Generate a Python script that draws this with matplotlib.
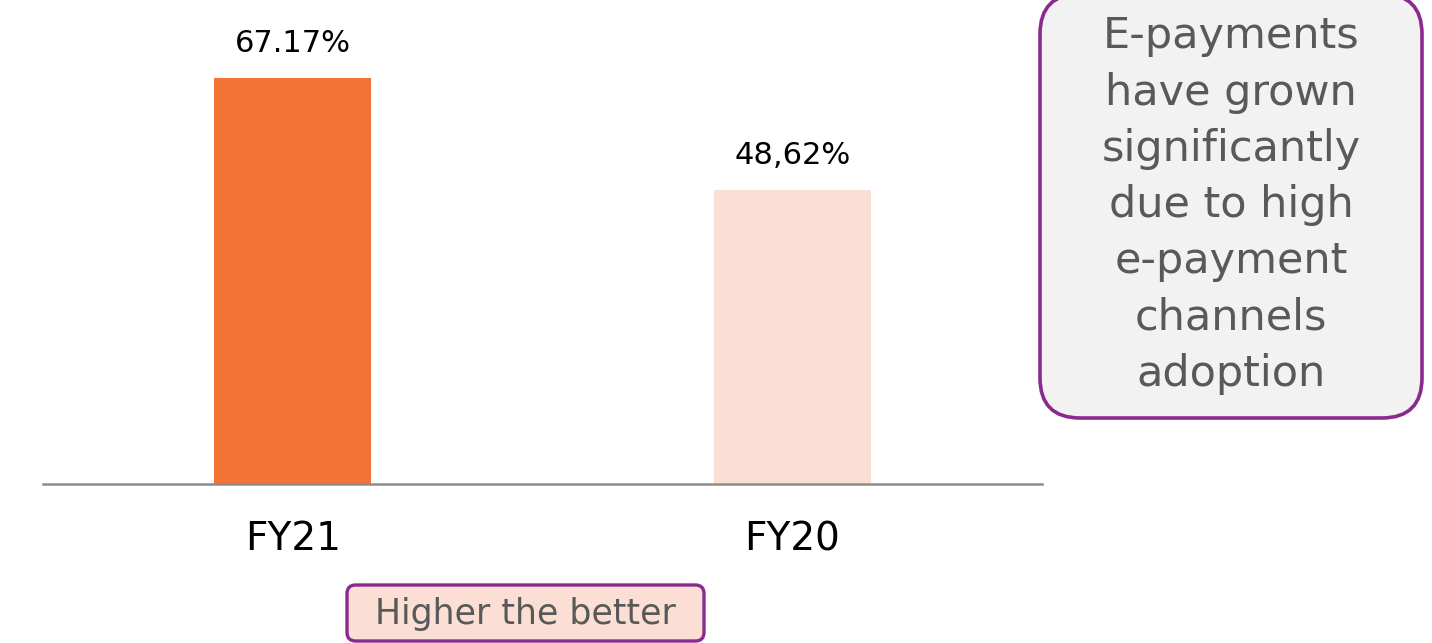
import matplotlib.pyplot as plt
from matplotlib.patches import FancyBboxPatch

# data
years = ["FY21", "FY20"]
share = [67.17, 48.62]
share_labels = ["67.17%", "48,62%"]
bar_colors = ["#F37334", "#FCDFD4"]
note_text = "E-payments\nhave grown\nsignificantly\ndue to high\ne-payment\nchannels\nadoption"
hint_text = "Higher the better"

purple = "#8B2A8E"
gray_txt = "#595959"

W, H = 1432, 643
fig = plt.figure(figsize=(W / 100, H / 100), dpi=100)
ax = fig.add_axes([43 / W, (H - 484) / H, 999 / W, 484 / H])

x = range(len(years))
bars = ax.bar(x, share, width=0.314, color=bar_colors)
for b, lab in zip(bars, share_labels):
    ax.annotate(lab, (b.get_x() + b.get_width() / 2, b.get_height()),
                xytext=(0, 20), textcoords="offset pixels",
                ha="center", va="bottom", fontsize=22, color="black")

ax.set_xlim(-0.5, 1.5)
ax.set_ylim(0, 80)
ax.set_xticks(list(x))
ax.set_xticklabels(years, fontsize=28)
ax.tick_params(axis="x", length=0, pad=26)
ax.set_yticks([])
for s in ["top", "right", "left"]:
    ax.spines[s].set_visible(False)
ax.spines["bottom"].set_color("#8C8C8C")
ax.spines["bottom"].set_linewidth(1.8)

# side note box
l, r, b, t = 1040 / W, 1422 / W, (H - 418) / H, (H + 6) / H
note_box = FancyBboxPatch((l, b), r - l, t - b,
                          boxstyle="round,pad=0,rounding_size=0.028",
                          transform=fig.transFigure, mutation_aspect=W / H,
                          facecolor="#F2F2F2", edgecolor=purple, linewidth=2.6,
                          clip_on=False)
fig.add_artist(note_box)
fig.text(1231 / W, (H - 205) / H, note_text, ha="center", va="center",
         fontsize=31, color=gray_txt, linespacing=1.43)

# "Higher the better" box
l, r, b, t = 347 / W, 704 / W, (H - 641) / H, (H - 585) / H
hint_box = FancyBboxPatch((l, b), r - l, t - b,
                          boxstyle="round,pad=0,rounding_size=0.006",
                          transform=fig.transFigure, mutation_aspect=W / H,
                          facecolor="#FCDFD4", edgecolor=purple, linewidth=2.4)
fig.add_artist(hint_box)
fig.text(525 / W, (H - 614) / H, hint_text, ha="center", va="center",
         fontsize=25, color=gray_txt)

fig.savefig("out.png", dpi=100)
